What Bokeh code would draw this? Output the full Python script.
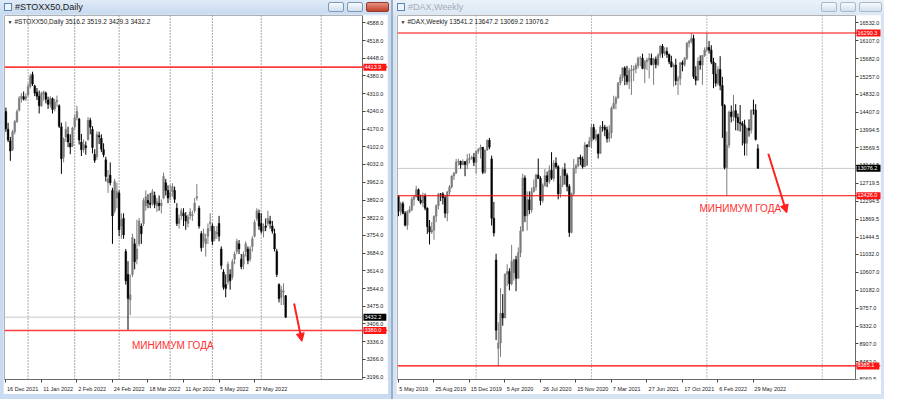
from bokeh.plotting import figure
from bokeh.models import (ColumnDataSource, Range1d, FixedTicker, Span, Label, Arrow,
                          NormalHead, Div, NumeralTickFormatter, LinearAxis)
from bokeh.layouts import row, column
from bokeh.embed import file_html
from bokeh.resources import INLINE

FONT = "Liberation Sans"

# ---------------- #STOXX50, Daily (16 Dec 2021 .. 16 Jun 2022) ----------------
stoxx_open = [4240, 4170, 4125, 4090, 4160, 4200, 4245, 4292, 4298, 4290,
              4305, 4338, 4385, 4340, 4315, 4300, 4262, 4308, 4312, 4285,
              4268, 4290, 4250, 4278, 4262, 4180, 4060, 4140, 4150, 4115,
              4105, 4180, 4215, 4210, 4120, 4090, 4105, 4130, 4205, 4170,
              4072, 4062, 4145, 4135, 4090, 4050, 3960, 3990, 3930, 3850,
              3900, 3920, 3790, 3820, 3690, 3600, 3500, 3600, 3720, 3660,
              3720, 3790, 3800, 3870, 3890, 3880, 3880, 3910, 3870, 3880,
              3870, 3900, 3960, 3930, 3905, 3925, 3930, 3860, 3800, 3830,
              3840, 3830, 3800, 3830, 3830, 3850, 3900, 3860, 3760, 3730,
              3720, 3750, 3800, 3790, 3740, 3760, 3800, 3700, 3610, 3560,
              3570, 3600, 3590, 3660, 3690, 3720, 3660, 3640, 3690, 3700,
              3660, 3710, 3750, 3820, 3840, 3800, 3770, 3790, 3800, 3810,
              3790, 3760, 3690, 3560, 3510, 3530, 3516.2]
stoxx_high = [4255, 4195, 4140, 4168, 4206, 4248, 4300, 4312, 4318, 4310,
              4350, 4388, 4396, 4345, 4332, 4322, 4318, 4322, 4318, 4298,
              4300, 4295, 4290, 4302, 4268, 4196, 4138, 4200, 4180, 4150,
              4180, 4228, 4262, 4215, 4152, 4130, 4122, 4218, 4215, 4182,
              4092, 4162, 4160, 4150, 4115, 4062, 4010, 4040, 3940, 3975,
              3960, 3930, 3840, 3840, 3700, 3652, 3600, 3760, 3740, 3815,
              3822, 3800, 3900, 3930, 3915, 3920, 3935, 3925, 3900, 3910,
              3895, 4000, 3975, 3950, 3952, 3958, 3945, 3880, 3835, 3860,
              3860, 3845, 3835, 3860, 3850, 3900, 3955, 3870, 3770, 3780,
              3760, 3800, 3840, 3800, 3790, 3790, 3830, 3710, 3620, 3600,
              3650, 3620, 3660, 3690, 3740, 3735, 3680, 3690, 3730, 3710,
              3710, 3750, 3815, 3860, 3855, 3840, 3800, 3820, 3850, 3830,
              3810, 3780, 3700, 3565, 3555, 3565, 3519.2]
stoxx_low = [4160, 4120, 4046, 4085, 4150, 4195, 4240, 4275, 4283, 4280,
             4298, 4330, 4340, 4300, 4285, 4232, 4258, 4282, 4272, 4250,
             4255, 4232, 4240, 4258, 4175, 3995, 4040, 4120, 4100, 4072,
             4100, 4170, 4205, 4110, 4065, 4078, 4070, 4125, 4150, 4075,
             4038, 4050, 4112, 4080, 4060, 3965, 3920, 3950, 3720, 3840,
             3860, 3750, 3740, 3740, 3560, 3382, 3440, 3590, 3620, 3640,
             3710, 3720, 3790, 3850, 3860, 3860, 3870, 3860, 3845, 3850,
             3840, 3895, 3910, 3880, 3890, 3905, 3880, 3790, 3780, 3815,
             3790, 3775, 3785, 3815, 3810, 3840, 3890, 3780, 3690, 3705,
             3670, 3720, 3770, 3715, 3730, 3740, 3730, 3620, 3540, 3510,
             3560, 3540, 3580, 3640, 3680, 3680, 3620, 3620, 3670, 3640,
             3650, 3690, 3745, 3810, 3775, 3760, 3745, 3770, 3790, 3780,
             3760, 3690, 3590, 3490, 3480, 3480, 3429.3]
stoxx_close = [4172, 4128, 4085, 4160, 4200, 4240, 4292, 4300, 4288, 4298,
               4338, 4378, 4348, 4312, 4300, 4262, 4310, 4316, 4288, 4268,
               4292, 4248, 4276, 4284, 4182, 4054, 4132, 4170, 4120, 4100,
               4175, 4215, 4240, 4128, 4090, 4110, 4098, 4205, 4178, 4098,
               4048, 4150, 4140, 4092, 4070, 3985, 3975, 3960, 3830, 3965,
               3925, 3775, 3815, 3755, 3575, 3505, 3520, 3745, 3650, 3700,
               3810, 3760, 3890, 3905, 3880, 3875, 3925, 3875, 3885, 3870,
               3880, 3985, 3930, 3900, 3920, 3945, 3895, 3800, 3820, 3850,
               3830, 3810, 3825, 3845, 3835, 3880, 3905, 3790, 3705, 3760,
               3740, 3780, 3805, 3730, 3770, 3765, 3750, 3635, 3550, 3545,
               3640, 3575, 3650, 3680, 3730, 3700, 3630, 3680, 3720, 3655,
               3700, 3740, 3805, 3850, 3790, 3770, 3785, 3785, 3820, 3800,
               3770, 3700, 3600, 3505, 3540, 3535, 3432.2]
stoxx_date_labels = ["16 Dec 2021", "11 Jan 2022", "2 Feb 2022", "24 Feb 2022",
                     "18 Mar 2022", "11 Apr 2022", "5 May 2022", "27 May 2022"]
stoxx_date_bars = [0, 16, 32, 48, 64, 80, 96, 112]
stoxx_month_bars = [10, 31, 51, 74, 93, 115, 142]
stoxx_price_ticks = [4588.0, 4518.0, 4448.0, 4380.0, 4310.0, 4240.0, 4170.0, 4102.0,
                     4032.0, 3962.0, 3892.0, 3822.0, 3754.0, 3684.0, 3614.0, 3544.0,
                     3475.0, 3406.0, 3336.0, 3266.0, 3196.0]
stoxx_levels = [4413.9, 3380.0]
stoxx_note = (56.8, 3322.0)
stoxx_arrow = (129.8, 3486.0, 133.3, 3337.0)

# ---------------- #DAX, Weekly (5 May 2019 .. 12 Jun 2022) ----------------
dax_open = [12410, 12060, 12238, 12011, 11727, 12045, 12096, 12340, 12399, 12569,
            12323, 12260, 12419, 12131, 11694, 11563, 11611, 11939, 12191, 12469,
            12468, 12380, 12013, 12512, 12634, 12895, 12961, 13229, 13242, 13164,
            13236, 13166, 13283, 13318, 13337, 13219, 13483, 13526, 13577, 12982,
            13514, 13745, 13300, 11890, 10900, 8800, 8929, 9633, 9525, 10565,
            10626, 10336, 10600, 10904, 10465, 11074, 11587, 12848, 11949, 12331,
            12089, 12528, 12633, 12919, 12838, 12313, 12674, 12901, 12764, 13033,
            12842, 13202, 13116, 12469, 12689, 13051, 12909, 12646, 11556, 12480,
            13077, 13137, 13335, 13298, 13114, 13630, 13587, 13719, 14049, 13787,
            13873, 13433, 14056, 14050, 13993, 13786, 13920, 14502, 14621, 14748,
            15107, 15234, 15459, 15280, 15136, 15400, 15416, 15437, 15519, 15693,
            15693, 15448, 15607, 15650, 15688, 15540, 15669, 15544, 15761, 15977,
            15808, 15852, 15781, 15609, 15490, 15531, 15156, 15206, 15587, 15543,
            15688, 16054, 16094, 16160, 15257, 15169, 15623, 15532, 15756, 15885,
            15948, 15883, 15603, 15318, 15100, 15425, 15042, 14567, 13094, 13628,
            14413, 14306, 14446, 14284, 14164, 14143, 14098, 13674, 14027, 13982,
            14462, 14460, 13541.2]
dax_high = [12435, 12280, 12290, 12060, 12080, 12180, 12400, 12440, 12660, 12600,
            12450, 12500, 12480, 12150, 11850, 11800, 11960, 12220, 12490, 12490,
            12510, 12440, 12540, 12680, 12910, 12990, 13300, 13300, 13260, 13290,
            13250, 13420, 13430, 13380, 13440, 13500, 13560, 13640, 13580, 13520,
            13760, 13800, 13380, 12280, 11050, 9420, 10230, 10090, 10580, 10800,
            10700, 11260, 10930, 11000, 11200, 11700, 12950, 12910, 12530, 12530,
            12620, 12810, 12950, 13310, 12890, 12720, 13060, 13000, 13150, 13460,
            13270, 13340, 13150, 12900, 13100, 13200, 12960, 12700, 12500, 13300,
            13180, 13340, 13400, 13360, 13700, 13650, 13820, 14130, 14130, 14000,
            13900, 14100, 14200, 14110, 14070, 14100, 14550, 14800, 14790, 15120,
            15310, 15480, 15500, 15510, 15460, 15530, 15520, 15570, 15730, 15740,
            15800, 15650, 15700, 15810, 15800, 15700, 15730, 15810, 16000, 16030,
            15950, 15950, 15800, 15750, 15570, 15680, 15270, 15600, 15640, 15720,
            16070, 16130, 16290.3, 16250, 15500, 15720, 15760, 15760, 15950, 16285,
            16100, 16000, 15700, 15580, 15500, 15740, 15250, 14600, 13950, 14450,
            14570, 14820, 14600, 14380, 14580, 14200, 14230, 14050, 14240, 14470,
            14710, 14600, 13647.2]
dax_low = [11940, 11960, 11985, 11700, 11620, 12010, 12060, 12190, 12390, 12300,
           12220, 12160, 12080, 11520, 11270, 11520, 11380, 11800, 12100, 12300,
           12220, 11900, 11820, 12440, 12600, 12800, 12950, 13140, 13070, 13150,
           12890, 13060, 13200, 13280, 13130, 12950, 13420, 13310, 12940, 12950,
           13490, 13530, 11720, 11460, 9000, 8385.1, 8600, 9340, 9520, 10280,
           10180, 10300, 10410, 10160, 10460, 10970, 11580, 11800, 11600, 11990,
           12020, 12500, 12550, 12830, 12200, 12260, 12640, 12630, 12710, 12800,
           12770, 13070, 12340, 12380, 12630, 12690, 12530, 11450, 11530, 12420,
           12950, 13100, 13150, 13070, 13110, 13140, 13580, 13560, 13750, 13720,
           13310, 13420, 13950, 13840, 13690, 13700, 13790, 14480, 14480, 14730,
           15050, 15150, 15050, 15060, 14960, 14820, 15150, 15330, 15450, 15500,
           15430, 15100, 15410, 15210, 15520, 15060, 15450, 15500, 15700, 15700,
           15750, 15700, 15550, 15470, 15020, 15050, 14820, 15050, 15380, 15490,
           15650, 15950, 16040, 15200, 15050, 15170, 15420, 15060, 15720, 15850,
           15800, 15550, 14980, 15020, 15050, 14930, 13800, 13050, 12426.0, 13560,
           14170, 14200, 13980, 13970, 13950, 13620, 13380, 13380, 13830, 13900,
           14350, 13740, 13069.2]
dax_close = [12060, 12238, 12011, 11727, 12045, 12096, 12340, 12399, 12569, 12323,
             12260, 12419, 12131, 11694, 11563, 11611, 11939, 12191, 12469, 12468,
             12380, 12013, 12512, 12634, 12895, 12961, 13229, 13242, 13164, 13236,
             13166, 13283, 13318, 13337, 13219, 13483, 13526, 13577, 12982, 13514,
             13745, 13579, 11890, 11542, 9232, 8929, 9633, 9525, 10565, 10626,
             10336, 10862, 10904, 10465, 11074, 11587, 12848, 11949, 12331, 12089,
             12528, 12633, 12919, 12838, 12313, 12674, 12901, 12764, 13033, 12842,
             13202, 13116, 12469, 12689, 13051, 12909, 12646, 11556, 12480, 13077,
             13137, 13335, 13298, 13114, 13630, 13587, 13719, 14049, 13787, 13873,
             13433, 14056, 14050, 13993, 13786, 13920, 14502, 14621, 14748, 15107,
             15234, 15459, 15280, 15136, 15400, 15416, 15437, 15519, 15693, 15693,
             15448, 15607, 15650, 15688, 15540, 15669, 15544, 15761, 15977, 15808,
             15852, 15781, 15609, 15490, 15531, 15156, 15206, 15587, 15543, 15688,
             16054, 16094, 16160, 15257, 15169, 15623, 15532, 15756, 15885, 15948,
             15883, 15603, 15318, 15100, 15425, 15042, 14567, 13094, 13628, 14413,
             14306, 14446, 14284, 14164, 14143, 14098, 13674, 14027, 13982, 14462,
             14460, 13761, 13076.2]
dax_date_labels = ["5 May 2019", "25 Aug 2019", "15 Dec 2019", "5 Apr 2020", "26 Jul 2020",
                   "15 Nov 2020", "7 Mar 2021", "27 Jun 2021", "17 Oct 2021", "6 Feb 2022",
                   "29 May 2022"]
dax_date_bars = [0, 16, 32, 48, 64, 80, 96, 112, 128, 144, 160]
dax_year_bars = [35, 87, 139, 191]
dax_price_ticks = [16532.0, 16107.0, 15682.0, 15257.0, 14832.0, 14407.0, 13994.5, 13569.5,
                   13144.5, 12719.5, 12294.5, 11869.5, 11444.5, 11032.0, 10607.0, 10182.0,
                   9757.0, 9332.0, 8907.0, 8482.0, 8069.5]
dax_levels = [16290.3, 12426.0, 8385.1]
dax_note = (135.7, 12135.0)
dax_arrow = (166.7, 13425.0, 175.0, 12018.0)

NOTE_TEXT = "МИНИМУМ ГОДА"
BULL = "#7c7c7c"
BEAR = "#000000"
FRAME = "#6a6a6a"

CHAR_W = {" ": 0.278, ".": 0.278}


def text_width(s, fs):
    w = 0.0
    for ch in s:
        if ch in CHAR_W:
            w += CHAR_W[ch]
        elif ch.isdigit():
            w += 0.556
        elif ch.isupper():
            w += 0.667
        else:
            w += 0.5
    return w * fs


def make_chart(name, O, H, L, C, x_range, y_range, fig_w, chart_w,
               date_labels, date_bars, grid_bars, price_ticks, levels,
               level_color, level_width, note, arrow, grid_color):
    frame_w = fig_w - 2
    px_per_bar = chart_w / (x_range[1] - x_range[0])
    x_end_ext = x_range[1] + (frame_w - chart_w) / px_per_bar
    p = figure(width=fig_w, height=380, x_range=Range1d(x_range[0], x_end_ext),
               y_range=Range1d(*y_range),
               output_backend="svg", toolbar_location=None, y_axis_location="right",
               min_border_left=1, min_border_right=1,
               min_border_top=1, min_border_bottom=12)
    p.margin = (0, 3, 5, 3)
    p.background_fill_color = "white"
    p.border_fill_color = "white"
    p.outline_line_color = None
    p.xgrid.visible = False
    p.ygrid.visible = False

    # vertical dotted grid (period separators)
    for g in grid_bars:
        p.add_layout(Span(location=g, dimension="height", line_color=grid_color,
                          line_dash="1 2", line_width=1, level="underlay"))
    # current price line
    p.add_layout(Span(location=C[-1], dimension="width", line_color="#c8c8c8",
                      line_width=1, level="underlay"))
    # horizontal levels
    for lv in levels:
        p.add_layout(Span(location=lv, dimension="width", line_color=level_color,
                          line_width=level_width))

    idx = list(range(len(O)))
    col = [BULL if c >= o else BEAR for o, c in zip(O, C)]
    src = ColumnDataSource(dict(x=idx, h=H, l=L,
                                top=[max(o, c) for o, c in zip(O, C)],
                                bot=[min(o, c) for o, c in zip(O, C)],
                                color=col))
    p.segment(x0="x", y0="l", x1="x", y1="h", line_color="color", line_width=1, source=src)
    p.vbar(x="x", top="top", bottom="bot", width=0.75, fill_color="color",
           line_color="color", line_width=0.5, source=src)

    # price axis: fixed at the right edge of the chart area (MT4 style)
    ya = p.yaxis[0]
    ya.fixed_location = x_range[1]
    ya.ticker = FixedTicker(ticks=price_ticks, minor_ticks=[])
    ya.formatter = NumeralTickFormatter(format="0.0")
    ya.axis_line_color = FRAME
    ya.major_tick_out = 3
    ya.major_tick_in = 0
    ya.minor_tick_out = 0
    ya.minor_tick_in = 0
    ya.major_tick_line_color = "#444444"
    ya.major_label_standoff = 1
    ya.major_label_text_font = FONT
    ya.major_label_text_font_size = "5.5px"
    ya.major_label_text_color = "#222222"

    # date axis (below): label left-aligned after a small tick mark
    centers = [round(b + (text_width(t, 5.5) / 2 + 1.5) / px_per_bar, 3)
               for b, t in zip(date_bars, date_labels)]
    xa = p.xaxis[0]
    xa.bounds = (x_range[0], x_range[1])
    xa.ticker = FixedTicker(ticks=centers, minor_ticks=date_bars)
    xa.major_label_overrides = {c: t for c, t in zip(centers, date_labels)}
    xa.axis_line_color = FRAME
    xa.major_tick_out = 0
    xa.major_tick_in = 0
    xa.minor_tick_out = 3
    xa.minor_tick_in = 0
    xa.minor_tick_line_color = "#444444"
    xa.major_label_standoff = 3
    xa.major_label_text_font = FONT
    xa.major_label_text_font_size = "5.5px"
    xa.major_label_text_color = "#222222"

    # frame lines on top and left (no ticks)
    top = LinearAxis(fixed_location=y_range[1], bounds=(x_range[0], x_range[1]),
                     ticker=FixedTicker(ticks=[], minor_ticks=[]), axis_line_color=FRAME,
                     major_label_text_font_size="0px", major_tick_out=0, minor_tick_out=0)
    p.add_layout(top, "above")
    lft = LinearAxis(fixed_location=x_range[0],
                     ticker=FixedTicker(ticks=[], minor_ticks=[]), axis_line_color=FRAME,
                     major_label_text_font_size="0px", major_tick_out=0, minor_tick_out=0)
    p.add_layout(lft, "left")

    # header with last bar OHLC
    head = f"{name}  {O[-1]:.1f} {H[-1]:.1f} {L[-1]:.1f} {C[-1]:.1f}"
    p.add_layout(Label(x=x_range[0], y=y_range[1], x_offset=3, y_offset=-3, text="▼",
                       text_font_size="5px", text_color="#222222",
                       text_baseline="top", text_align="left"))
    p.add_layout(Label(x=x_range[0], y=y_range[1], x_offset=10, y_offset=-2, text=head,
                       text_font=FONT, text_font_size="6.5px", text_color="#222222",
                       text_baseline="top", text_align="left"))

    # price boxes on the axis
    for lv in levels:
        p.add_layout(Label(x=x_range[1], y=lv, x_offset=1, text=f"{lv:.1f}",
                           text_font=FONT, text_font_size="5.5px", text_color="white",
                           text_align="left", text_baseline="middle",
                           background_fill_color="#ff1414", padding=(1, 5, 1, 2)))
    p.add_layout(Label(x=x_range[1], y=C[-1], x_offset=1, text=f"{C[-1]:.1f}",
                       text_font=FONT, text_font_size="5.5px", text_color="white",
                       text_align="left", text_baseline="middle",
                       background_fill_color="black", padding=(1, 5, 1, 2)))

    # annotation
    p.add_layout(Label(x=note[0], y=note[1], text=NOTE_TEXT, text_font=FONT,
                       text_font_size="10px", text_color="#ff3030",
                       text_align="left", text_baseline="middle"))
    p.add_layout(Arrow(end=NormalHead(size=8, fill_color="#ff2020", line_color="#ff2020"),
                       x_start=arrow[0], y_start=arrow[1], x_end=arrow[2], y_end=arrow[3],
                       line_color="#ff2020", line_width=2))
    return p


def title_bar(text, width, active):
    bg = "linear-gradient(#dfeaf7,#c9dbf0)" if active else "linear-gradient(#eaf1f9,#dde8f4)"
    color = "#1a1a1a" if active else "#a4adb8"
    btns = ""
    specs = [(width - 63, 16), (width - 44, 16), (width - 25, 23)]
    for i, (x, w) in enumerate(specs):
        fill = "linear-gradient(#f6f9fd,#d3e0ef)"
        border = "#7f98b5" if active else "#aab8c8"
        if i == 2 and active:
            fill = "linear-gradient(#e6907f,#c3412c)"
            border = "#8e3a2c"
        btns += (f'<div style="position:absolute;top:2px;left:{x}px;width:{w}px;height:10px;'
                 f'border:1px solid {border};border-radius:2px;background:{fill};'
                 f'box-sizing:border-box;"></div>')
    icon = ('<div style="position:absolute;top:3px;left:4px;width:8px;height:8px;'
            'border:1px solid #5b85b8;background:#eef4fb;box-sizing:border-box;"></div>')
    html = (f'<div style="position:relative;width:{width}px;height:14px;background:{bg};'
            f'overflow:hidden;">{icon}'
            f'<span style="position:absolute;left:15px;top:1px;font-family:\'Liberation Sans\';'
            f'font-size:9px;line-height:12px;color:{color};">{text}</span>{btns}</div>')
    return Div(text=html, width=width, height=14, margin=(0, 0, 0, 0))


left = make_chart("#STOXX50,Daily", stoxx_open, stoxx_high, stoxx_low, stoxx_close,
                  (-0.62, 160.6), (3187.4, 4616.7), 385, 358,
                  stoxx_date_labels, stoxx_date_bars, stoxx_month_bars, stoxx_price_ticks,
                  stoxx_levels, "#ff3b3b", 1.6, stoxx_note, stoxx_arrow, "#555555")
right = make_chart("#DAX,Weekly", dax_open, dax_high, dax_low, dax_close,
                   (-0.44, 206.0), (8062.7, 16706.0), 485, 458,
                   dax_date_labels, dax_date_bars, dax_year_bars, dax_price_ticks,
                   dax_levels, "#ff0000", 1.2, dax_note, dax_arrow, "#777777")

col_l = column(title_bar("#STOXX50,Daily", 391, True), left, spacing=0,
               styles={"background-color": "#c9dbf0"})
col_r = column(title_bar("#DAX,Weekly", 491, False), right, spacing=0,
               styles={"background-color": "#d6e3f2"})
layout = row(col_l, col_r, spacing=2, styles={"background-color": "#9aaec6"})

open("out.html", "w").write(file_html(layout, INLINE, "charts"))
